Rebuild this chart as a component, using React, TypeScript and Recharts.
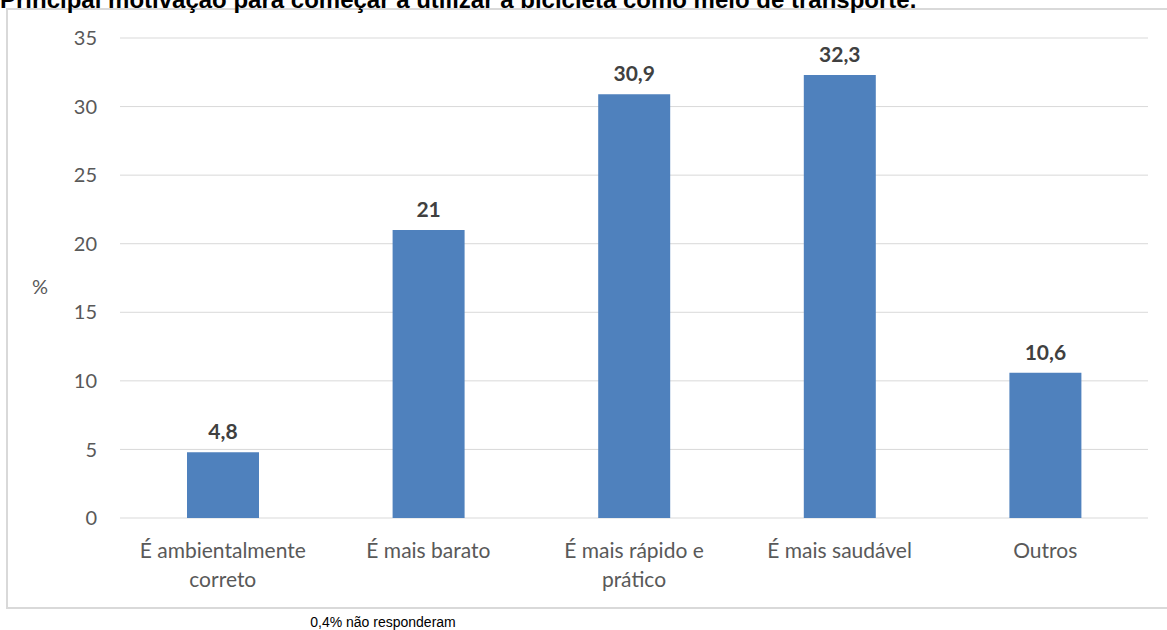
import React from 'react';
import { Bar, BarChart, CartesianGrid, LabelList, XAxis, YAxis } from 'recharts';

const categories = ['É ambientalmente correto', 'É mais barato', 'É mais rápido e prático', 'É mais saudável', 'Outros'];
const categoryLines = [['É ambientalmente', 'correto'], ['É mais barato'], ['É mais rápido e', 'prático'], ['É mais saudável'], ['Outros']];
const percentages = [4.8, 21, 30.9, 32.3, 10.6];
const yTicks = [0, 5, 10, 15, 20, 25, 30, 35];

const title = 'Principal motivação para começar a utilizar a bicicleta como meio de transporte.';
const footnote = '0,4% não responderam';

const chartData = categories.map((name, i) => ({ name, value: percentages[i] }));

const FONT = 'Lato, "Open Sans", sans-serif';

function CategoryTick(props: any) {
  const { x, y, index } = props;
  const lines = categoryLines[index] ?? [];
  return (
    <g>
      {lines.map((ln, i) => (
        <text key={i} x={x} y={y + 32 + i * 29} textAnchor="middle" fill="#595959" fontSize={21} fontFamily={FONT}>
          {ln}
        </text>
      ))}
    </g>
  );
}

function ValueLabel(props: any) {
  const { x, y, width, value } = props;
  return (
    <text x={x + width / 2} y={y - 13} textAnchor="middle" fill="#404040" fontSize={21} fontWeight="bold" fontFamily={FONT}>
      {String(value).replace('.', ',')}
    </text>
  );
}

export default function App() {
  return (
    <div style={{ position: 'absolute', left: 0, top: 0, width: 1167, height: 630, overflow: 'hidden', background: '#fff' }}>
      <div
        style={{
          position: 'absolute',
          left: 6,
          top: 8,
          width: 1180,
          height: 601,
          border: '2px solid #d9d9d9',
          boxSizing: 'border-box',
        }}
      />
      <svg width={1167} height={630} style={{ position: 'absolute', left: 0, top: 0 }}>
        <text x={0} y={8} fontFamily='"Liberation Sans", Arial, sans-serif' fontWeight="bold" fontSize={24} fill="#000">
          {title}
        </text>
        <text x={383} y={627} textAnchor="middle" fontFamily='"Liberation Sans", Arial, sans-serif' fontSize={14} fill="#000">
          {footnote}
        </text>
        <text x={40} y={294} textAnchor="middle" fontFamily={FONT} fontSize={20} fill="#595959">
          %
        </text>
      </svg>
      <div style={{ position: 'absolute', left: 0, top: 0 }}>
        <BarChart width={1167} height={630} data={chartData} margin={{ top: 38, right: 19, left: 0, bottom: 82 }} barCategoryGap="0%">
          <CartesianGrid vertical={false} stroke="#d9d9d9" />
          <XAxis dataKey="name" height={30} axisLine={false} tickLine={false} interval={0} tick={<CategoryTick />} />
          <YAxis
            width={120}
            domain={[0, 35]}
            ticks={yTicks}
            axisLine={false}
            tickLine={false}
            tickMargin={17}
            tick={{ fill: '#595959', fontSize: 20, fontFamily: FONT }}
          />
          <Bar dataKey="value" fill="#4f81bd" barSize={72} isAnimationActive={false}>
            <LabelList dataKey="value" content={<ValueLabel />} />
          </Bar>
        </BarChart>
      </div>
    </div>
  );
}
